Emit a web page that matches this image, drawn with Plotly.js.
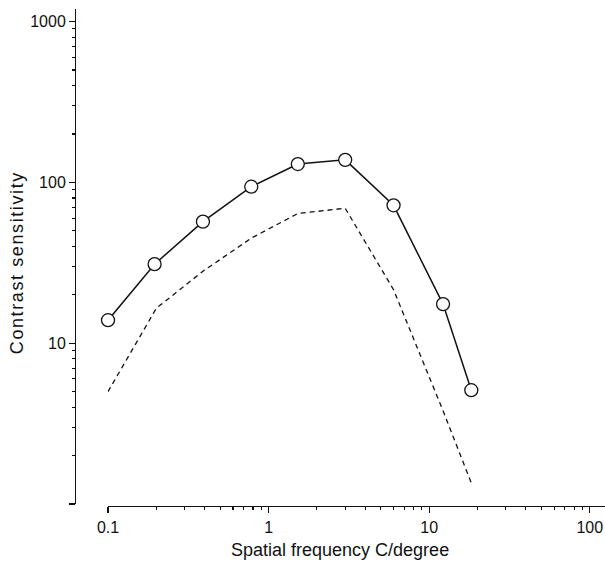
<!DOCTYPE html>
<html>
<head>
<meta charset="utf-8">
<script src="https://cdn.plot.ly/plotly-3.0.1.min.js"></script>
<style>
html,body{margin:0;padding:0;background:#fff;}
#chart{width:605px;height:561px;}
</style>
</head>
<body>
<div id="chart"></div>
<script>
// Spatial frequency (cycles/degree)
const freqSolid = [0.1, 0.195, 0.39, 0.78, 1.52, 3.0, 6.0, 12.2, 18.3];
const sensSolid = [13.9, 31, 57, 94, 130, 138, 72, 17.5, 5.1];
const freqDashed = [0.1, 0.2, 0.39, 0.78, 1.52, 3.0, 6.0, 12.2, 18.3];
const sensDashed = [5.0, 16.5, 28, 45, 64, 69, 21.5, 3.8, 1.35];

const xTickVals = [0.1, 1, 10, 100];
const xTickText = ['0.1', '1', '10', '100'];
const yTickVals = [1, 10, 100, 1000];
const yTickText = ['', '10', '100', '1000'];

const xTitle = 'Spatial frequency C/degree';
const yTitle = 'Contrast sensitivity';

function minorLogTicks(lo, hi) {
  const out = [];
  for (let d = lo; d <= hi; d++) {
    for (let m = 2; m <= 9; m++) out.push(m * Math.pow(10, d));
  }
  return out;
}

const FONT = 'Liberation Sans, Arial, Helvetica, sans-serif';

const traces = [
  {
    x: freqDashed, y: sensDashed, type: 'scatter', mode: 'lines',
    line: {color: '#111', width: 1.3, dash: '5px,4px'},
    hoverinfo: 'skip', showlegend: false
  },
  {
    x: freqSolid, y: sensSolid, type: 'scatter', mode: 'lines+markers',
    line: {color: '#111', width: 1.5},
    marker: {symbol: 'circle', size: 13, color: '#fff', line: {color: '#111', width: 1.3}},
    cliponaxis: false, showlegend: false
  }
];

const layout = {
  width: 605, height: 561,
  margin: {l: 75, r: 0, t: 9, b: 55, pad: 0},
  paper_bgcolor: '#fff', plot_bgcolor: '#fff',
  showlegend: false,
  font: {family: FONT, color: '#111', size: 16},
  xaxis: {
    type: 'log', range: [-1, 2.095], domain: [0.0623, 1],
    anchor: 'free', position: 0,
    showline: true, linecolor: '#111', linewidth: 1.4,
    showgrid: false, zeroline: false,
    ticks: 'outside', ticklen: 6, tickwidth: 1.2, tickcolor: '#111',
    tickmode: 'array', tickvals: xTickVals, ticktext: xTickText,
    tickfont: {family: FONT, size: 16, color: '#111'},
    minor: {tickmode: 'array', tickvals: minorLogTicks(-1, 1), ticks: 'outside', ticklen: 3, tickwidth: 1.1, tickcolor: '#111', showgrid: false}
  },
  yaxis: {
    type: 'log', range: [0, 3.078], domain: [0.004, 1],
    anchor: 'free', position: 0,
    showline: true, linecolor: '#111', linewidth: 1.4,
    showgrid: false, zeroline: false,
    ticks: 'outside', ticklen: 6, tickwidth: 1.2, tickcolor: '#111',
    tickmode: 'array', tickvals: yTickVals, ticktext: yTickText,
    tickfont: {family: FONT, size: 16, color: '#111'},
    minor: {tickmode: 'array', tickvals: minorLogTicks(0, 2), ticks: 'outside', ticklen: 3, tickwidth: 1.1, tickcolor: '#111', showgrid: false}
  },
  annotations: [
    {text: xTitle, xref: 'paper', yref: 'paper', x: 0.5, y: -0.088,
     xanchor: 'center', yanchor: 'middle', showarrow: false,
     font: {family: FONT, size: 18, color: '#111'}},
    {text: yTitle, xref: 'paper', yref: 'paper', x: -0.109, y: 0.489,
     xanchor: 'center', yanchor: 'middle', textangle: -90, showarrow: false,
     font: {family: FONT, size: 18, color: '#111'}}
  ]
};

Plotly.newPlot('chart', traces, layout, {displayModeBar: false, staticPlot: true}).then(function () {
  const ann = document.querySelectorAll('.annotation-text');
  if (ann.length > 1) ann[1].style.letterSpacing = '1.6px';
});
</script>
</body>
</html>
